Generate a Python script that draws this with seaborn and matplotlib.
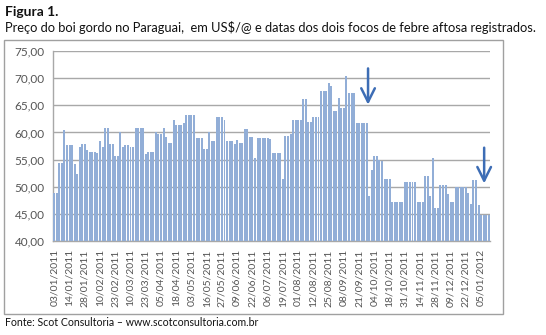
import matplotlib
matplotlib.use("Agg")
import matplotlib.pyplot as plt
from matplotlib.patches import Rectangle
import numpy as np
import pandas as pd
import seaborn as sns

# Fat cattle price in Paraguay (US$/@), one bar per quotation
prices = [
    48.8, 48.8, 54.3, 54.3, 60.4, 57.6, 57.6, 57.6, 54.2, 52.3,
    57.3, 57.8, 57.8, 56.7, 56.4, 56.4, 56.4, 56.3, 58.5, 57.3,
    60.9, 60.9, 57.9, 57.9, 55.7, 55.7, 60.0, 57.4, 57.6, 57.6,
    57.3, 57.3, 60.9, 60.9, 60.9, 60.9, 56.0, 56.4, 56.4, 56.4,
    60.0, 59.7, 59.7, 60.9, 59.2, 58.1, 58.1, 62.3, 61.4, 61.4,
    61.4, 61.8, 63.3, 63.3, 63.3, 63.3, 59.0, 59.0, 59.0, 56.9,
    56.9, 60.1, 58.4, 58.4, 62.8, 62.8, 62.8, 62.2, 58.4, 58.4,
    58.4, 57.9, 58.6, 58.1, 58.1, 60.7, 60.7, 59.1, 59.1, 55.3,
    59.0, 59.0, 59.0, 59.0, 59.0, 58.8, 56.3, 56.3, 56.3, 56.3,
    51.5, 59.3, 59.3, 59.8, 62.2, 62.2, 62.2, 62.2, 66.1, 66.1,
    62.0, 62.0, 62.8, 62.8, 62.8, 67.6, 67.6, 67.6, 69.1, 68.5,
    64.0, 64.0, 66.4, 64.5, 64.5, 70.4, 67.3, 67.3, 67.3, 61.8,
    61.8, 61.8, 61.8, 61.8, 48.2, 53.0, 55.6, 55.6, 55.0, 54.7,
    51.5, 51.5, 51.5, 47.1, 47.1, 47.1, 47.1, 47.1, 50.9, 50.9,
    50.9, 50.9, 50.9, 47.1, 47.1, 47.1, 52.0, 52.0, 48.3, 55.3,
    46.1, 46.1, 50.3, 50.3, 50.3, 48.7, 47.1, 47.1, 50.0, 50.0,
    50.0, 50.0, 50.0, 48.8, 46.9, 51.3, 51.3, 46.7, 44.8, 44.8,
    44.8, 44.8,
]

# Dates shown on the category axis (every sixth quotation)
date_labels = [
    "03/01/2011", "14/01/2011", "28/01/2011", "10/02/2011", "23/02/2011",
    "10/03/2011", "23/03/2011", "05/04/2011", "18/04/2011", "03/05/2011",
    "16/05/2011", "27/05/2011", "09/06/2011", "22/06/2011", "06/07/2011",
    "19/07/2011", "01/08/2011", "12/08/2011", "25/08/2011", "08/09/2011",
    "21/09/2011", "04/10/2011", "18/10/2011", "31/10/2011", "14/11/2011",
    "28/11/2011", "09/12/2011", "22/12/2011", "05/01/2012",
]
label_step = 6

y_ticks = [40, 45, 50, 55, 60, 65, 70, 75]
y_tick_labels = ["40,00", "45,00", "50,00", "55,00", "60,00", "65,00", "70,00", "75,00"]

# Quotations flagged by the two foot-and-mouth outbreaks
outbreak_bars = [123.5, 169.2]

title = "Figura 1."
subtitle = "Preço do boi gordo no Paraguai,  em US$/@ e datas dos dois focos de febre aftosa registrados."
source = "Fonte: Scot Consultoria – www.scotconsultoria.com.br"

sns.set_theme(style="white")
plt.rcParams["font.family"] = ["Lato", "DejaVu Sans"]

W, H = 546, 335
fig = plt.figure(figsize=(W / 100, H / 100), dpi=100)
fig.patch.set_facecolor("white")

ax = fig.add_axes([53 / W, 1 - 241 / H, (490 - 53) / W, (241 - 51) / H])

df = pd.DataFrame({"pos": np.arange(len(prices)), "price": prices})
sns.barplot(data=df, x="pos", y="price", color="#92AED7", saturation=1,
            width=0.78, linewidth=0, ax=ax, zorder=3)

grid_c = "#A8A8A8"
ax.set_ylim(40, 75)
ax.set_xlim(-0.5, len(prices) - 0.5)
ax.set_yticks(y_ticks)
ax.set_yticklabels(y_tick_labels)
ax.yaxis.grid(True, color=grid_c, lw=1, zorder=0)
ax.xaxis.grid(False)
ax.set_axisbelow(True)

major = np.arange(0, len(prices), label_step)[:len(date_labels)]
ax.set_xticks(major)
ax.set_xticklabels(date_labels, rotation=90)
ax.set_xticks(np.arange(len(prices)), minor=True)
ax.set_xlabel("")
ax.set_ylabel("")

for s in ["top", "right"]:
    ax.spines[s].set_visible(False)
for s in ["left", "bottom"]:
    ax.spines[s].set_color(grid_c)
    ax.spines[s].set_linewidth(1)

ax.tick_params(axis="y", which="major", direction="out", length=3, width=1,
               color=grid_c, labelsize=8.5, labelcolor="#555555", pad=3)
ax.tick_params(axis="x", which="both", direction="out", length=3, width=0.8,
               color=grid_c, labelsize=7.5, labelcolor="#555555", pad=3)

arrow_c = "#3D6DB5"
ax.annotate("", xy=(outbreak_bars[0], 64.6), xytext=(outbreak_bars[0], 72.3),
            arrowprops=dict(arrowstyle="->,head_width=0.35,head_length=0.7",
                            color=arrow_c, lw=1.8, mutation_scale=14),
            zorder=5)
ax.annotate("", xy=(outbreak_bars[1], 50.1), xytext=(outbreak_bars[1], 57.7),
            arrowprops=dict(arrowstyle="->,head_width=0.35,head_length=0.7",
                            color=arrow_c, lw=1.8, mutation_scale=14),
            zorder=5)

# Chart frame
fig.patches.append(Rectangle((4 / W, 1 - 314 / H), (503 - 4) / W, (314 - 40) / H,
                             transform=fig.transFigure, fill=False,
                             edgecolor="#A0A0A0", lw=1))

fig.text(5 / W, 1 - 12 / H, title, fontsize=10, fontweight="bold",
         color="#111111", ha="left", va="center")
fig.text(5 / W, 1 - 28 / H, subtitle, fontsize=9.3, color="#111111",
         ha="left", va="center")
fig.text(5 / W, 1 - 323 / H, source, fontsize=7.6, color="#111111",
         ha="left", va="center")

fig.savefig("out.png", dpi=100, facecolor="white")
